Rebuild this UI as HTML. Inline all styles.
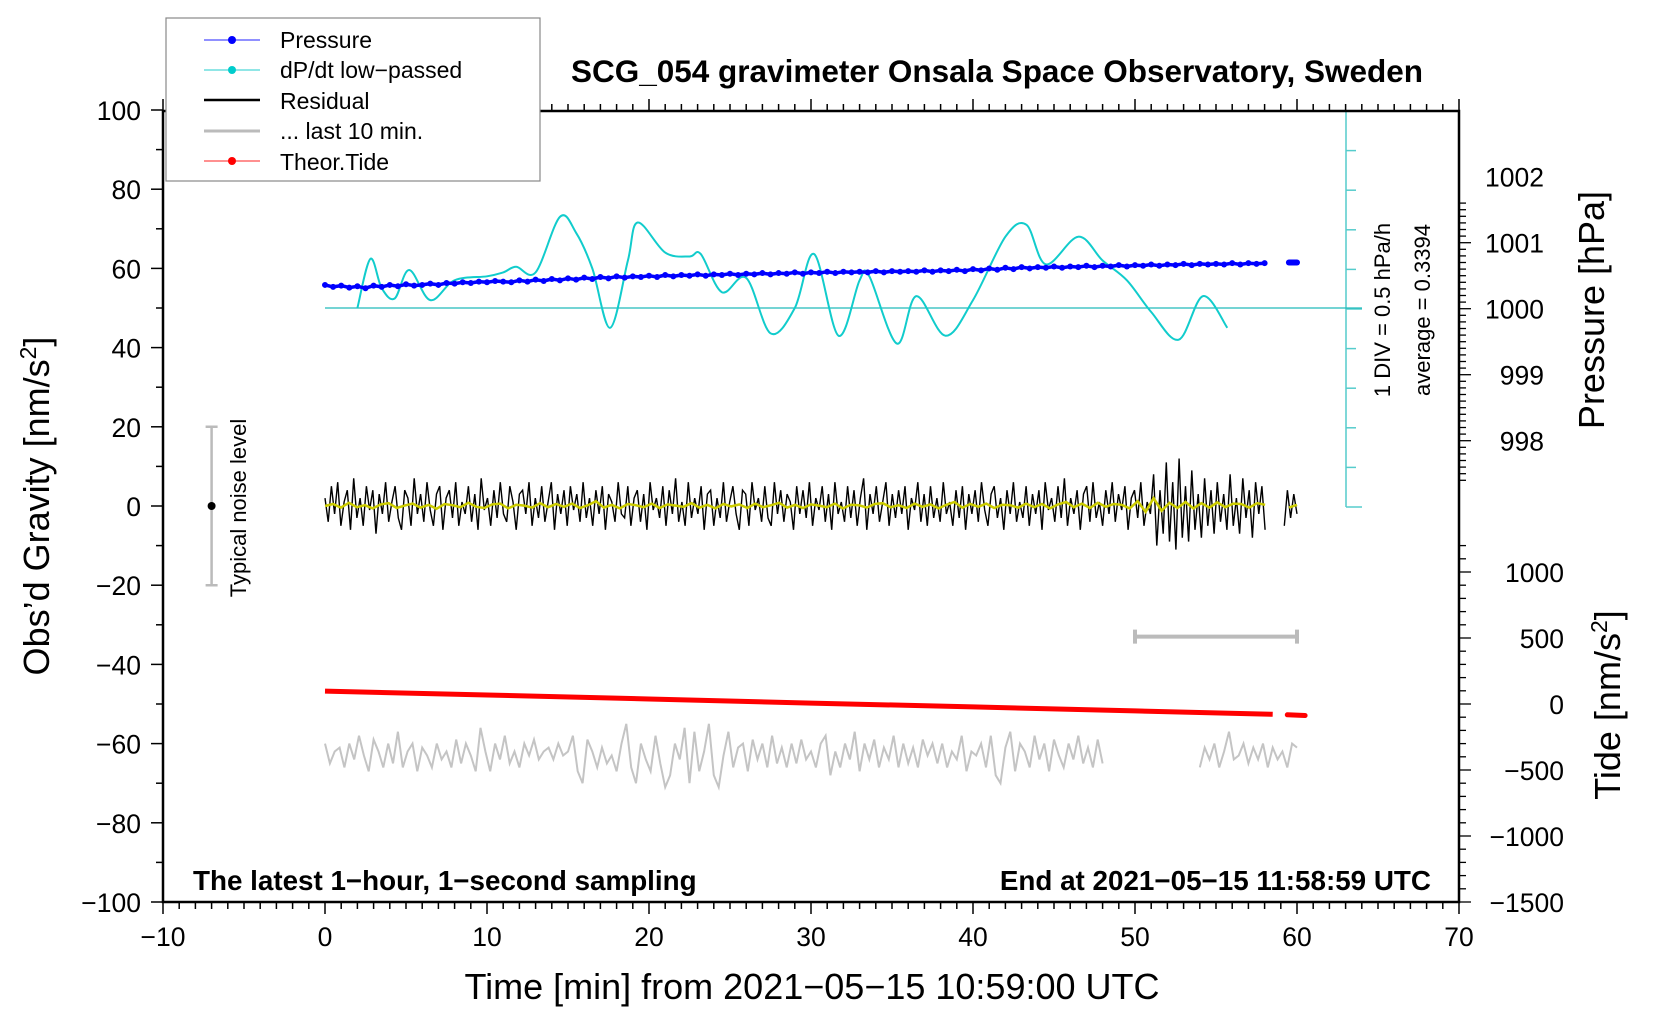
<!DOCTYPE html>
<html><head><meta charset="utf-8">
<style>
html,body{margin:0;padding:0;background:#fff;}
svg{display:block;font-family:"Liberation Sans",Arial,sans-serif;}
</style></head>
<body>
<svg id="chart" width="1660" height="1020" viewBox="0 0 1660 1020" xmlns="http://www.w3.org/2000/svg">
<rect x="0" y="0" width="1660" height="1020" fill="#fff"/>
<g id="marks"></g>
<g id="axes"></g>
<text x="997" y="82" text-anchor="middle" font-size="31.5" font-weight="bold">SCG_054 gravimeter Onsala Space Observatory, Sweden</text>
<text x="812" y="999" text-anchor="middle" font-size="36">Time [min] from 2021−05−15 10:59:00 UTC</text>
<text transform="translate(49,506) rotate(-90)" text-anchor="middle" font-size="36">Obs’d Gravity [nm/s<tspan font-size="23" dy="-13">2</tspan><tspan dy="13">]</tspan></text>
<text transform="translate(1604,310) rotate(-90)" text-anchor="middle" font-size="36">Pressure [hPa]</text>
<text transform="translate(1620,705) rotate(-90)" text-anchor="middle" font-size="36">Tide [nm/s<tspan font-size="23" dy="-13">2</tspan><tspan dy="13">]</tspan></text>
<text x="193" y="890" font-size="27.8" font-weight="bold">The latest 1−hour, 1−second sampling</text>
<text x="1431" y="890" text-anchor="end" font-size="27.8" font-weight="bold">End at 2021−05−15 11:58:59 UTC</text>
<text transform="translate(1390,310) rotate(-90)" text-anchor="middle" font-size="22">1 DIV = 0.5 hPa/h</text>
<text transform="translate(1430,310) rotate(-90)" text-anchor="middle" font-size="22">average = 0.3394</text>
<text transform="translate(246,508) rotate(-90)" text-anchor="middle" font-size="22">Typical noise level</text>
<g>
<rect x="166" y="18" width="374" height="163" fill="#fff" stroke="#888" stroke-width="1.2"/>
<line x1="204" y1="40" x2="260" y2="40" stroke="#22f" stroke-width="1"/><circle cx="232" cy="40" r="4" fill="#00f"/>
<text x="280" y="48" font-size="23">Pressure</text>
<line x1="204" y1="70" x2="260" y2="70" stroke="#2cc" stroke-width="1"/><circle cx="232" cy="70" r="4" fill="#0cc"/>
<text x="280" y="78" font-size="23">dP/dt low−passed</text>
<line x1="204" y1="100" x2="260" y2="100" stroke="#000" stroke-width="2.5"/>
<text x="280" y="109" font-size="23">Residual</text>
<line x1="204" y1="131" x2="260" y2="131" stroke="#bbb" stroke-width="3"/>
<text x="280" y="139" font-size="23">... last 10 min.</text>
<line x1="204" y1="161" x2="260" y2="161" stroke="#f22" stroke-width="1"/><circle cx="232" cy="161" r="4" fill="#f00"/>
<text x="280" y="170" font-size="23">Theor.Tide</text>
</g>
</svg>
<script>
// ---- data ----
const xTicks = [-10,0,10,20,30,40,50,60,70];
const yTicks = [100,80,60,40,20,0,-20,-40,-60,-80,-100];
const pTicks = [1002,1001,1000,999,998];
const tideTicks = [1000,500,0,-500,-1000,-1500];
const pressureT = [0,0.5,1,1.5,2,2.5,3,3.5,4,4.5,5,5.5,6,6.5,7,7.5,8,8.5,9,9.5,10,10.5,11,11.5,12,12.5,13,13.5,14,14.5,15,15.5,16,16.5,17,17.5,18,18.5,19,19.5,20,20.5,21,21.5,22,22.5,23,23.5,24,24.5,25,25.5,26,26.5,27,27.5,28,28.5,29,29.5,30,30.5,31,31.5,32,32.5,33,33.5,34,34.5,35,35.5,36,36.5,37,37.5,38,38.5,39,39.5,40,40.5,41,41.5,42,42.5,43,43.5,44,44.5,45,45.5,46,46.5,47,47.5,48,48.5,49,49.5,50,50.5,51,51.5,52,52.5,53,53.5,54,54.5,55,55.5,56,56.5,57,57.5,58,59.5,60];
const pressureV = [1000.36,1000.33,1000.35,1000.32,1000.34,1000.31,1000.35,1000.33,1000.36,1000.34,1000.37,1000.35,1000.36,1000.38,1000.36,1000.39,1000.38,1000.40,1000.39,1000.41,1000.40,1000.42,1000.41,1000.40,1000.43,1000.41,1000.44,1000.42,1000.45,1000.43,1000.46,1000.44,1000.47,1000.45,1000.48,1000.46,1000.49,1000.47,1000.49,1000.48,1000.50,1000.48,1000.51,1000.49,1000.51,1000.50,1000.52,1000.50,1000.52,1000.51,1000.53,1000.51,1000.53,1000.52,1000.54,1000.52,1000.54,1000.53,1000.55,1000.53,1000.55,1000.54,1000.56,1000.54,1000.56,1000.55,1000.56,1000.55,1000.57,1000.55,1000.57,1000.56,1000.57,1000.56,1000.58,1000.56,1000.58,1000.57,1000.59,1000.57,1000.60,1000.58,1000.61,1000.59,1000.62,1000.60,1000.63,1000.61,1000.63,1000.62,1000.64,1000.62,1000.64,1000.63,1000.65,1000.63,1000.65,1000.64,1000.66,1000.64,1000.66,1000.65,1000.67,1000.65,1000.67,1000.66,1000.68,1000.66,1000.68,1000.67,1000.68,1000.67,1000.69,1000.67,1000.69,1000.68,1000.69,1000.70,1000.70];
const dpdtT = [2,2.8,3.5,4.3,5.2,6.5,8,10,11,11.8,13,14.5,15.5,16.5,17.6,18.7,19.3,21,22.5,23.2,24.5,26,27.5,29,30.2,31.7,33,33.6,35.3,36.5,38.3,40,42,43.3,44.5,46.5,48,49.5,51,52.7,54.2,55.7];
const dpdtV = [0.0,0.62,0.25,0.12,0.48,0.1,0.35,0.4,0.45,0.52,0.45,1.15,0.95,0.5,-0.25,0.6,1.08,0.7,0.65,0.68,0.2,0.38,-0.32,0.0,0.68,-0.35,0.35,0.4,-0.45,0.15,-0.35,0.1,0.9,1.05,0.55,0.9,0.6,0.35,-0.05,-0.4,0.15,-0.25];
const residualV = [2,-4,5,-2,6,-5,1,4,-6,7,-3,2,-5,5,-1,4,-7,3,-2,6,-4,1,5,-3,-6,4,2,-5,7,-2,3,-4,6,-1,-5,3,5,-6,2,4,
-3,6,-5,1,-2,5,-4,3,-6,7,-1,2,-5,4,-3,6,-2,-4,5,1,-6,3,4,-2,6,-5,2,-3,5,-4,1,6,-6,3,-2,4,-5,5,-1,3,
-4,6,-3,2,-5,4,-2,5,-6,3,1,-4,6,-2,-3,5,-5,2,4,-4,3,-6,6,-1,2,-3,5,-5,4,-2,7,-4,1,-5,6,-3,2,-2,5,-6,
3,4,-5,2,-3,6,-4,1,5,-2,-6,4,3,-5,6,-1,2,-4,5,-3,-5,6,-2,4,-4,3,1,-6,5,-2,4,-3,6,-5,2,-1,5,-4,3,-6,
6,-2,1,-4,5,-3,4,-5,2,7,-6,3,-2,5,-4,1,6,-5,3,-3,4,-2,5,-6,2,-1,6,-4,3,-5,5,-3,2,-4,6,-2,1,-5,4,-3,
5,-6,3,-2,4,-4,6,-1,-5,3,5,-3,2,-6,4,-2,6,-4,1,-3,5,-5,3,-2,4,-6,6,-1,2,-4,5,-3,7,-5,2,-2,4,-6,3,5,
-4,6,-3,1,-5,4,-2,6,-4,3,-1,5,-6,2,4,-3,6,-5,1,-2,8,-10,4,-7,11,-9,6,-11,12,-8,5,-9,9,-6,3,-8,7,-5,4,-7,
6,-4,3,-6,8,-5,2,-7,7,-3,4,-8,6,-2,5,-6,null,null,null,null,null,-5,4,-3,3,-2];
const smoothV = [0,0.5,-0.4,0.8,-0.3,0.2,-0.6,0.4,0.7,-0.5,0.1,0.6,-0.4,0.3,-0.7,0.5,0.2,-0.3,0.8,-0.2,-0.5,0.4,0.6,-0.6,0.3,0.1,-0.4,0.7,-0.3,0.5,
-0.2,0.6,-0.5,0.2,1.2,-0.4,0.3,-0.6,0.5,0.2,-0.3,0.6,-0.5,0.4,0.1,-0.2,0.7,-0.4,0.3,-0.6,0.5,-0.1,0.4,-0.5,0.6,-0.3,0.2,0.8,-0.4,0.3,
-0.5,0.4,0.1,-0.3,0.6,-0.6,0.3,0.2,-0.4,0.5,0.7,-0.3,0.2,-0.5,0.6,-0.2,0.4,-0.6,0.3,1.0,-0.4,0.5,-0.2,0.6,-0.5,0.3,0.2,-0.4,0.6,-0.3,
0.5,-0.6,0.4,1.0,-0.3,0.6,-0.5,0.8,-0.2,0.5,0.3,-0.6,1.2,-1.5,2.0,-1.2,0.8,-0.5,1.0,-0.6,0.7,-0.4,0.9,-0.3,0.6,0.5,-0.4,0.7,0.3,null,null,-0.4,0.3];
const lastT = [0,0.3,0.6,0.9,1.2,1.5,1.8,2.1,2.4,2.7,3.0,3.3,3.6,3.9,4.2,4.5,4.8,5.1,5.4,5.7,6.0,6.3,6.6,6.9,7.2,7.5,7.8,8.1,8.4,8.7,9.0,9.3,9.6,9.9,10.2,10.5,10.8,11.1,11.4,11.7,12.0,12.3,12.6,12.9,13.2,13.5,13.8,14.1,14.4,14.7,15.0,15.3,15.6,15.9,16.2,16.5,16.8,17.1,17.4,17.7,18.0,18.3,18.6,18.9,19.2,19.5,19.8,20.1,20.4,20.7,21.0,21.3,21.6,21.9,22.2,22.5,22.8,23.1,23.4,23.7,24.0,24.3,24.6,24.9,25.2,25.5,25.8,26.1,26.4,26.7,27.0,27.3,27.6,27.9,28.2,28.5,28.8,29.1,29.4,29.7,30.0,30.3,30.6,30.9,31.2,31.5,31.8,32.1,32.4,32.7,33.0,33.3,33.6,33.9,34.2,34.5,34.8,35.1,35.4,35.7,36.0,36.3,36.6,36.9,37.2,37.5,37.8,38.1,38.4,38.7,39.0,39.3,39.6,39.9,40.2,40.5,40.8,41.1,41.4,41.7,42.0,42.3,42.6,42.9,43.2,43.5,43.8,44.1,44.4,44.7,45.0,45.3,45.6,45.9,46.2,46.5,46.8,47.1,47.4,47.7,48.0];
const lastV = [-60,-65,-62,-61,-66,-60,-64,-58,-63,-67,-59,-62,-66,-60,-65,-57,-66,-62,-60,-67,-61,-63,-66,-60,-64,-62,-66,-59,-65,-60,-63,-67,-56,-62,-67,-60,-64,-58,-65,-62,-66,-60,-63,-59,-64,-62,-61,-64,-60,-63,-62,-58,-67,-70,-59,-62,-66,-61,-65,-63,-67,-60,-55,-66,-70,-60,-64,-67,-58,-65,-71,-68,-60,-64,-56,-70,-57,-67,-62,-55,-68,-71,-63,-57,-66,-61,-60,-67,-59,-64,-60,-66,-58,-65,-61,-66,-60,-65,-59,-64,-62,-66,-60,-58,-68,-62,-66,-60,-64,-57,-67,-60,-64,-59,-66,-61,-64,-58,-66,-60,-65,-61,-66,-59,-63,-60,-65,-60,-66,-62,-64,-58,-67,-62,-63,-60,-66,-58,-68,-70,-61,-57,-67,-60,-62,-66,-58,-64,-60,-67,-59,-63,-66,-60,-64,-58,-65,-61,-66,-59,-65,-61,-63];
const last2T = [54,54.3,54.6,54.9,55.2,55.5,55.8,56.1,56.4,56.7,57,57.3,57.6,57.9,58.2,58.5,58.8,59.1,59.4,59.7,60];
const last2V = [-66,-61,-64,-60,-66,-62,-57,-64,-63,-60,-65,-61,-64,-60,-66,-61,-64,-62,-66,-60,-61];
const tideT = [0,10,20,30,40,50,58.5,59.4,60.5];
const tideV = [98,68,38,7,-22,-52,-78,-82,-87];
const noiseRange = [-20,20];
const scaleBarT = [50,60];
const scaleBarV = -33;
const spanMin = 60;

// ---- scales ----
const X = t => 163 + (t + 10) * 16.2;
const Y = v => 902 - (v + 100) * 3.96;
const P = p => 308.7 - (p - 1000) * 66;
const TD = v => 704 - v * 0.132;
const DP = v => Y(50 + v * 20);

const NS = 'http://www.w3.org/2000/svg';
const marks = document.getElementById('marks');
const axes = document.getElementById('axes');
function mk(tag, attrs, parent){ const e=document.createElementNS(NS,tag); for(const k in attrs) e.setAttribute(k,attrs[k]); (parent||marks).appendChild(e); return e; }
function pathFrom(ts, vs, fx, fy){ let d='', pen=false; for(let i=0;i<ts.length;i++){ const v=vs[i]; if(v===null){pen=false;continue;} d+=(pen?'L':'M')+fx(ts[i]).toFixed(1)+','+fy(v).toFixed(1); pen=true;} return d; }

// cyan scale bar & zero line
const cb = mk('line',{x1:1346,y1:111,x2:1346,y2:507,stroke:'#5cc',"stroke-width":1.5});


for(let k=0;k<=10;k++){ const yy=111+k*39.6; const tk=mk('line',{x1:1346,y1:yy,x2:(k===0||k===5||k===10)?1362:1356,y2:yy,stroke:'#5cc',"stroke-width":1.5});   }
const zl = mk('line',{x1:X(0),y1:Y(50),x2:1362,y2:Y(50),stroke:'#2bb',"stroke-width":1.3});



// dP/dt curve (smooth)
(function(){
  const pts = dpdtT.map((t,i)=>[X(t),DP(dpdtV[i])]);
  let d='M'+pts[0][0]+','+pts[0][1];
  for(let i=0;i<pts.length-1;i++){ const p0=pts[Math.max(0,i-1)],p1=pts[i],p2=pts[i+1],p3=pts[Math.min(pts.length-1,i+2)];
    d+=' C'+(p1[0]+(p2[0]-p0[0])/6).toFixed(1)+','+(p1[1]+(p2[1]-p0[1])/6).toFixed(1)+' '+(p2[0]-(p3[0]-p1[0])/6).toFixed(1)+','+(p2[1]-(p3[1]-p1[1])/6).toFixed(1)+' '+p2[0].toFixed(1)+','+p2[1].toFixed(1); }
  const c = mk('path',{d:d,fill:'none',stroke:'#1cc',"stroke-width":2});
  
  
})();

// pressure
const nP = pressureT.length;
const pl = mk('path',{d:pathFrom(pressureT.slice(0,nP-2),pressureV.slice(0,nP-2),X,P),fill:'none',stroke:'#00f',"stroke-width":3.5,"stroke-linejoin":"round"});


const pl2 = mk('path',{d:pathFrom(pressureT.slice(nP-2),pressureV.slice(nP-2),X,P),fill:'none',stroke:'#00f',"stroke-width":6});


pressureT.forEach((t,i)=>{ const c=mk('circle',{cx:X(t),cy:P(pressureV[i]),r:3,fill:'#00f'});   });

// residual
const rStep = spanMin/(residualV.length-1);
const rT = residualV.map((_,i)=>i*rStep);
const rl = mk('path',{d:pathFrom(rT,residualV,X,Y),fill:'none',stroke:'#000',"stroke-width":1.4});


const sStep = spanMin/(smoothV.length-1);
const sT = smoothV.map((_,i)=>i*sStep);
const sl = mk('path',{d:pathFrom(sT,smoothV,X,Y),fill:'none',stroke:'#cc0',"stroke-width":2.5});



// last 10 min
const g1 = mk('path',{d:pathFrom(lastT,lastV,X,Y),fill:'none',stroke:'#c4c4c4',"stroke-width":2});


const g2 = mk('path',{d:pathFrom(last2T,last2V,X,Y),fill:'none',stroke:'#c4c4c4',"stroke-width":2});



// scale bar (grey)
const sb = mk('path',{d:'M'+X(scaleBarT[0])+','+Y(scaleBarV)+'L'+X(scaleBarT[1])+','+Y(scaleBarV)+'M'+X(scaleBarT[0])+','+(Y(scaleBarV)-7)+'L'+X(scaleBarT[0])+','+(Y(scaleBarV)+7)+'M'+X(scaleBarT[1])+','+(Y(scaleBarV)-7)+'L'+X(scaleBarT[1])+','+(Y(scaleBarV)+7),stroke:'#bbb',"stroke-width":4,fill:'none'});



// tide
const tl = mk('path',{d:pathFrom(tideT.slice(0,7),tideV.slice(0,7),X,TD),fill:'none',stroke:'#f00',"stroke-width":5});


const tl2 = mk('path',{d:pathFrom(tideT.slice(7),tideV.slice(7),X,TD),fill:'none',stroke:'#f00',"stroke-width":5,"stroke-linecap":"round"});



// noise level bar
const nb = mk('path',{d:'M'+X(-7)+','+Y(noiseRange[0])+'L'+X(-7)+','+Y(noiseRange[1])+'M'+(X(-7)-6)+','+Y(noiseRange[0])+'L'+(X(-7)+6)+','+Y(noiseRange[0])+'M'+(X(-7)-6)+','+Y(noiseRange[1])+'L'+(X(-7)+6)+','+Y(noiseRange[1]),stroke:'#bbb',"stroke-width":2.5,fill:'none'});


const nd = mk('circle',{cx:X(-7),cy:Y(0),r:4,fill:'#000'});



// ---- axes ----
const frame = mk('rect',{x:163,y:111,width:1296,height:791,fill:'none',stroke:'#000',"stroke-width":2.5},axes);


for(let t=-10;t<=70;t++){ const major=t%10===0; const x=X(t);
  const a=mk('line',{x1:x,y1:902,x2:x,y2:902+(major?12:7),stroke:'#000',"stroke-width":1.5},axes);  
  const b=mk('line',{x1:x,y1:111,x2:x,y2:111-(major?12:7),stroke:'#000',"stroke-width":1.5},axes);   }
xTicks.forEach(t=>{ const e=mk('text',{x:X(t),y:946,"text-anchor":"middle","font-size":26.5},axes); e.textContent=String(t).replace('-','−');   });
for(let v=-100;v<=100;v+=10){ const major=v%20===0; const a=mk('line',{x1:163,y1:Y(v),x2:163-(major?12:7),y2:Y(v),stroke:'#000',"stroke-width":1.5},axes);   }
yTicks.forEach(v=>{ const e=mk('text',{x:141,y:Y(v)+10,"text-anchor":"end","font-size":26.5},axes); e.textContent=String(v).replace('-','−');   });
for(let k=0;k<=42;k++){ const p=997.4+k*0.1; const y=P(p); if(y<111) continue; const pm=Math.round(p*10)%10===0; const a=mk('line',{x1:1459,y1:y,x2:1459+(pm?12:7),y2:y,stroke:'#000',"stroke-width":1.3},axes);   }
pTicks.forEach(p=>{ const e=mk('text',{x:1544,y:P(p)+10,"text-anchor":"end","font-size":26.5},axes); e.textContent=p;   });
for(let v=-1500;v<=1200;v+=100){ const y=TD(v); if(y<530) continue; const m=v%500===0; const a=mk('line',{x1:1459,y1:y,x2:1459+(m?12:7),y2:y,stroke:'#000',"stroke-width":1.3},axes);   }
tideTicks.forEach(v=>{ const e=mk('text',{x:1564,y:TD(v)+10,"text-anchor":"end","font-size":26.5},axes); e.textContent=String(v).replace('-','−');   });
</script>
</body></html>
